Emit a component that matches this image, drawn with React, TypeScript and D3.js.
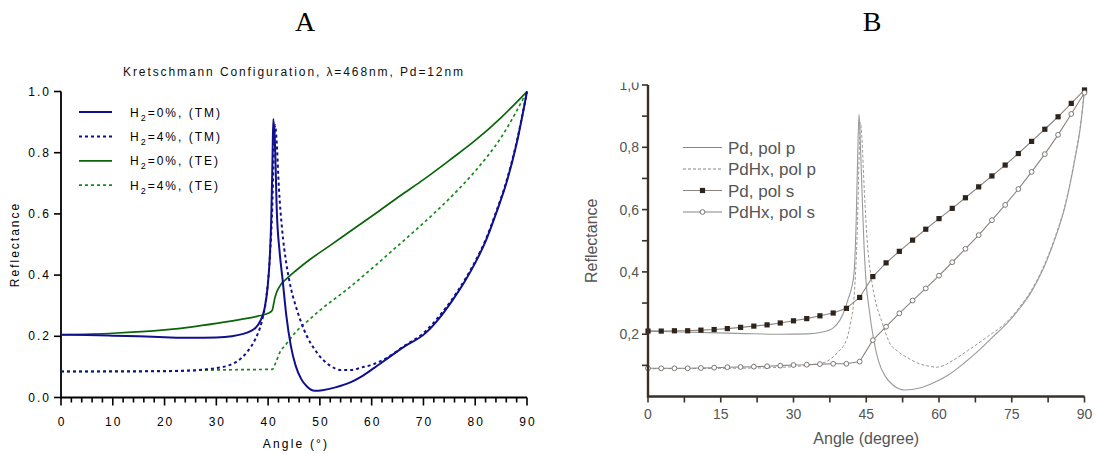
import React, { useEffect, useRef } from 'react';
import * as d3 from 'd3';

// ---- panel A : Kretschmann configuration, [angle, reflectance]
const tm0: [number, number][] = [
  [0, 0.205], [5, 0.204], [10, 0.202], [15, 0.2], [20, 0.197], [25, 0.195], [30, 0.196],
  [33, 0.2], [35, 0.207], [36.5, 0.216], [37.6, 0.228], [38.5, 0.25], [39.3, 0.29],
  [39.9, 0.36], [40.3, 0.45], [40.6, 0.58], [40.85, 0.78], [41.0, 0.91], [41.3, 0.84],
  [41.7, 0.6], [42.2, 0.48], [42.8, 0.385], [43.5, 0.27], [44.4, 0.168], [45.3, 0.105],
  [46.4, 0.06], [47.5, 0.036], [49, 0.022], [50.5, 0.024], [53, 0.033], [56, 0.05],
  [58, 0.068], [60.5, 0.097], [63, 0.127], [66, 0.163], [70.5, 0.212], [73, 0.258],
  [75.5, 0.315], [78, 0.38], [80, 0.44], [82, 0.51], [84, 0.6], [86, 0.7], [88, 0.83], [90, 1.0],
];
const tm4: [number, number][] = [
  [0, 0.085], [10, 0.085], [20, 0.086], [25, 0.088], [28, 0.092], [30, 0.096], [32.4, 0.105],
  [34, 0.118], [36, 0.15], [37.5, 0.19], [38.8, 0.25], [39.6, 0.32], [40.3, 0.45],
  [40.8, 0.62], [41.1, 0.8], [41.35, 0.89], [41.6, 0.85], [42.1, 0.68], [42.7, 0.55],
  [43.5, 0.44], [44.5, 0.35], [45.5, 0.29], [46.5, 0.24], [47.5, 0.2], [49, 0.157],
  [50.5, 0.125], [52, 0.104], [54, 0.09], [56, 0.09], [58, 0.098], [60.5, 0.11], [63, 0.13],
  [66, 0.165], [70.5, 0.218], [73, 0.265], [75.5, 0.32], [78, 0.385], [80, 0.445],
  [82, 0.515], [84, 0.605], [86, 0.705], [88, 0.835], [90, 1.0],
];
const te0: [number, number][] = [
  [0, 0.205], [10, 0.21], [20, 0.221], [25, 0.23], [30, 0.242], [35, 0.256], [38, 0.266],
  [40, 0.275], [40.8, 0.285], [41, 0.3], [41.3, 0.325], [41.8, 0.35], [42.5, 0.37],
  [43.5, 0.387], [45.4, 0.415], [48, 0.45], [52, 0.497], [56, 0.545], [61.3, 0.608],
  [66, 0.665], [70, 0.712], [75, 0.775], [80, 0.84], [85, 0.915], [90, 1.0],
];
const te4: [number, number][] = [
  [0, 0.085], [10, 0.086], [20, 0.087], [30, 0.09], [35, 0.091], [40.8, 0.092], [41.5, 0.115],
  [42.2, 0.145], [43.5, 0.175], [45.4, 0.215], [48, 0.255], [50, 0.285], [55, 0.35],
  [61.3, 0.44], [65, 0.495], [70, 0.57], [75, 0.65], [80, 0.74], [85, 0.85], [90, 1.0],
];
const legendA = ['=0%, (TM)', '=4%, (TM)', '=0%, (TE)', '=4%, (TE)'];
const xTicksA = [0, 10, 20, 30, 40, 50, 60, 70, 80, 90];
const yTicksA = [0, 0.2, 0.4, 0.6, 0.8, 1.0];

// ---- panel B : Pd / PdHx
const pdP: [number, number][] = [
  [0, 0.21], [10, 0.206], [20, 0.202], [27, 0.2], [33, 0.201], [36, 0.207], [38, 0.218],
  [39.6, 0.246], [40.6, 0.28], [41.3, 0.315], [42, 0.35], [42.5, 0.4], [42.9, 0.55],
  [43.25, 0.78], [43.5, 0.906], [43.7, 0.85], [44.1, 0.67], [44.5, 0.5], [44.9, 0.38],
  [45.6, 0.28], [46.5, 0.185], [47.5, 0.115], [49, 0.063], [50.5, 0.037], [52.9, 0.021],
  [56, 0.027], [59, 0.045], [62, 0.07], [65, 0.105], [68, 0.145], [71, 0.19], [74, 0.235],
  [76.5, 0.28], [79, 0.335], [81.5, 0.41], [84, 0.51], [86, 0.61], [88, 0.76], [89.2, 0.87], [90, 0.985],
];
const pdHxP: [number, number][] = [
  [0, 0.089], [10, 0.09], [20, 0.091], [28, 0.094], [32.7, 0.1], [35, 0.105], [36.8, 0.112],
  [39, 0.14], [41, 0.185], [41.8, 0.24], [42.4, 0.3], [42.8, 0.4], [43.2, 0.56], [43.5, 0.75],
  [43.8, 0.88], [44.1, 0.83], [44.6, 0.66], [45.3, 0.48], [46.1, 0.374], [47, 0.3], [48, 0.25],
  [49.9, 0.17], [51.5, 0.145], [54, 0.12], [56, 0.105], [58, 0.097], [59.5, 0.094], [61, 0.1],
  [63, 0.117], [66, 0.148], [70, 0.192], [74, 0.24], [76.5, 0.285], [79, 0.34], [81.5, 0.415],
  [84, 0.515], [86, 0.615], [88, 0.765], [89.2, 0.875], [90, 0.985],
];
const sAngles = [
  0, 2.73, 5.45, 8.18, 10.91, 13.64, 16.36, 19.09, 21.82, 24.55, 27.27, 30, 32.73, 35.45,
  38.18, 40.91, 43.64, 46.36, 49.09, 51.82, 54.55, 57.27, 60, 62.73, 65.45, 68.18, 70.91,
  73.64, 76.36, 79.09, 81.82, 84.55, 87.27, 90,
];
const pdS = [
  0.21, 0.21, 0.211, 0.211, 0.213, 0.215, 0.218, 0.222, 0.226, 0.23, 0.236, 0.243, 0.25, 0.259,
  0.268, 0.283, 0.318, 0.385, 0.429, 0.466, 0.502, 0.537, 0.571, 0.604, 0.638, 0.673, 0.708,
  0.743, 0.78, 0.819, 0.858, 0.898, 0.941, 0.984,
];
const pdHxS = [
  0.0905, 0.0905, 0.0905, 0.0905, 0.0915, 0.0925, 0.094, 0.0947, 0.0957, 0.097, 0.099, 0.101,
  0.102, 0.104, 0.105, 0.105, 0.112, 0.181, 0.224, 0.267, 0.308, 0.347, 0.388, 0.431, 0.474,
  0.518, 0.566, 0.615, 0.666, 0.721, 0.778, 0.84, 0.907, 0.975,
];
const legendB = ['Pd, pol p', 'PdHx, pol p', 'Pd, pol s', 'PdHx, pol s'];
const xTicksB = [0, 15, 30, 45, 60, 75, 90];
const yTicksB = [0.2, 0.4, 0.6, 0.8, 1.0];

const SANS = '"Liberation Sans", Arial, Helvetica, sans-serif';

export default function App() {
  const ref = useRef<SVGSVGElement>(null);

  useEffect(() => {
    const svg = d3.select(ref.current);
    svg.selectAll('*').remove();

    // panel letters
    svg.append('text').attr('x', 305).attr('y', 31).attr('text-anchor', 'middle')
      .style('font-family', '"Liberation Serif", "Times New Roman", serif').style('font-size', '28px').text('A');
    svg.append('text').attr('x', 872).attr('y', 31).attr('text-anchor', 'middle')
      .style('font-family', '"Liberation Serif", "Times New Roman", serif').style('font-size', '28px').text('B');

    // ================= panel A
    const xA = d3.scaleLinear().domain([0, 90]).range([61, 527]);
    const yA = d3.scaleLinear().domain([0, 1]).range([397.5, 91.5]);
    const gA = svg.append('g').style('font-family', SANS);

    gA.append('text').attr('x', 294).attr('y', 76).attr('text-anchor', 'middle')
      .style('font-size', '12px').style('letter-spacing', '1.9px').attr('fill', '#111')
      .text('Kretschmann Configuration, \u03bb=468nm, Pd=12nm');

    // axes
    gA.append('path').attr('d', `M${xA(0)},${yA(1)}V${yA(0)}H${xA(90)}`)
      .attr('fill', 'none').attr('stroke', '#000').attr('stroke-width', 1.8);
    d3.range(0, 91, 2).forEach((t) => {
      const major = t % 10 === 0;
      gA.append('line').attr('x1', xA(t)).attr('x2', xA(t)).attr('y1', yA(0)).attr('y2', yA(0) + (major ? 8 : 5))
        .attr('stroke', '#000').attr('stroke-width', 1.6);
    });
    xTicksA.forEach((t) => {
      gA.append('text').attr('x', xA(t) + 1).attr('y', yA(0) + 28).attr('text-anchor', 'middle')
        .style('font-size', '12px').style('letter-spacing', '2px').text(String(t));
    });
    yTicksA.forEach((t) => {
      gA.append('line').attr('x1', xA(0) - 7).attr('x2', xA(0)).attr('y1', yA(t)).attr('y2', yA(t))
        .attr('stroke', '#000').attr('stroke-width', 1.6);
      gA.append('text').attr('x', xA(0) - 10).attr('y', yA(t) + 4).attr('text-anchor', 'end')
        .style('font-size', '12px').style('letter-spacing', '2px').text(t.toFixed(1));
    });
    gA.append('text').attr('x', 296).attr('y', 448).attr('text-anchor', 'middle')
      .style('font-size', '12px').style('letter-spacing', '2.2px').text('Angle (\u00b0)');
    gA.append('text').attr('transform', `translate(19,${(yA(0) + yA(1)) / 2}) rotate(-90)`)
      .attr('text-anchor', 'middle').style('font-size', '12px').style('letter-spacing', '2px').text('Reflectance');

    const lineA = d3.line<[number, number]>().x((d) => xA(d[0])).y((d) => yA(d[1])).curve(d3.curveMonotoneX);
    const seriesA = [
      { data: te4, color: '#168a16', dash: '3,3', w: 1.7 },
      { data: te0, color: '#0a650a', dash: null, w: 1.7 },
      { data: tm4, color: '#10108c', dash: '3,3', w: 2 },
      { data: tm0, color: '#10108c', dash: null, w: 2 },
    ];
    seriesA.forEach((s) => {
      gA.append('path').attr('d', lineA(s.data)).attr('fill', 'none').attr('stroke', s.color)
        .attr('stroke-width', s.w).attr('stroke-dasharray', s.dash);
    });

    // legend A
    const legColorsA = [seriesA[3], seriesA[2], seriesA[1], seriesA[0]];
    legendA.forEach((lab, i) => {
      const y = 112 + i * 24.4;
      const s = legColorsA[i];
      gA.append('line').attr('x1', 79).attr('x2', 112).attr('y1', y).attr('y2', y)
        .attr('stroke', s.color).attr('stroke-width', s.w).attr('stroke-dasharray', s.dash);
      const t = gA.append('text').attr('x', 130).attr('y', y + 4.5).style('font-size', '12px')
        .style('letter-spacing', '2px');
      t.append('tspan').text('H');
      t.append('tspan').attr('dy', 4).style('font-size', '9px').text('2');
      t.append('tspan').attr('dy', -4).text(lab);
    });

    // ================= panel B
    const xB = d3.scaleLinear().domain([0, 90]).range([648, 1084.5]);
    const yB = d3.scaleLinear().domain([0, 1]).range([396.5, 85]);
    const gB = svg.append('g').style('font-family', SANS);
    const axisCol = '#3b3027';
    const txtCol = '#555';

    const lineB = d3.line<[number, number]>().x((d) => xB(d[0])).y((d) => yB(d[1])).curve(d3.curveMonotoneX);
    gB.append('path').attr('d', lineB(pdHxP)).attr('fill', 'none').attr('stroke', '#9a9a9a')
      .attr('stroke-width', 1).attr('stroke-dasharray', '3,2');
    gB.append('path').attr('d', lineB(pdP)).attr('fill', 'none').attr('stroke', '#9a9a9a').attr('stroke-width', 1.1);

    const sLine = d3.line<number>().x((_, i) => xB(sAngles[i])).y((d) => yB(d));
    gB.append('path').attr('d', sLine(pdS)).attr('fill', 'none').attr('stroke', '#8a8580').attr('stroke-width', 1.1);
    gB.append('path').attr('d', sLine(pdHxS)).attr('fill', 'none').attr('stroke', '#8a8580').attr('stroke-width', 1.1);
    pdS.forEach((v, i) => {
      gB.append('rect').attr('x', xB(sAngles[i]) - 2.6).attr('y', yB(v) - 2.6).attr('width', 5.2).attr('height', 5.2)
        .attr('fill', '#2e241b');
    });
    pdHxS.forEach((v, i) => {
      gB.append('circle').attr('cx', xB(sAngles[i])).attr('cy', yB(v)).attr('r', 2.4)
        .attr('fill', '#fff').attr('stroke', '#6e6a66').attr('stroke-width', 0.9);
    });

    // axes B
    gB.append('path').attr('d', `M${xB(0)},${yB(1)}V${yB(0)}H${xB(90)}`)
      .attr('fill', 'none').attr('stroke', axisCol).attr('stroke-width', 2.4);
    d3.range(0, 91, 7.5).forEach((t) => {
      gB.append('line').attr('x1', xB(t)).attr('x2', xB(t)).attr('y1', yB(0)).attr('y2', yB(0) + 6)
        .attr('stroke', axisCol).attr('stroke-width', 1.6);
    });
    xTicksB.forEach((t) => {
      gB.append('text').attr('x', xB(t)).attr('y', yB(0) + 22).attr('text-anchor', 'middle')
        .style('font-size', '14px').attr('fill', txtCol).text(String(t));
    });
    d3.range(0.1, 1.01, 0.1).forEach((t) => {
      gB.append('line').attr('x1', xB(0) - 6).attr('x2', xB(0)).attr('y1', yB(t)).attr('y2', yB(t))
        .attr('stroke', axisCol).attr('stroke-width', 1.6);
    });
    yTicksB.forEach((t) => {
      gB.append('text').attr('x', xB(0) - 9).attr('y', yB(t) + 5).attr('text-anchor', 'end')
        .style('font-size', '14px').attr('fill', txtCol).text(t.toFixed(1).replace('.', ','));
    });
    // top of the picture is cut just above 1,0
    gB.append('rect').attr('x', 590).attr('y', 60).attr('width', 60).attr('height', 22.5).attr('fill', '#fff');

    gB.append('text').attr('x', xB(45)).attr('y', 444).attr('text-anchor', 'middle')
      .style('font-size', '16px').attr('fill', txtCol).text('Angle (degree)');
    gB.append('text').attr('transform', `translate(597,${(yB(0) + yB(1)) / 2}) rotate(-90)`)
      .attr('text-anchor', 'middle').style('font-size', '16px').attr('fill', txtCol).text('Reflectance');

    // legend B
    legendB.forEach((lab, i) => {
      const y = 147.5 + i * 21.5;
      const x1 = 683, x2 = 722;
      gB.append('line').attr('x1', x1).attr('x2', x2).attr('y1', y).attr('y2', y)
        .attr('stroke', '#8a8580').attr('stroke-width', 1).attr('stroke-dasharray', i === 1 ? '3,2' : null);
      if (i === 2) {
        gB.append('rect').attr('x', (x1 + x2) / 2 - 2.6).attr('y', y - 2.6).attr('width', 5.2).attr('height', 5.2).attr('fill', '#2e241b');
      }
      if (i === 3) {
        gB.append('circle').attr('cx', (x1 + x2) / 2).attr('cy', y).attr('r', 2.4)
          .attr('fill', '#fff').attr('stroke', '#6e6a66').attr('stroke-width', 0.9);
      }
      gB.append('text').attr('x', 728).attr('y', y + 6).style('font-size', '17px').attr('fill', txtCol).text(lab);
    });
  }, []);

  return (
    <svg ref={ref} width={1097} height={454}
      style={{ position: 'absolute', left: 0, top: 0, background: '#fff' }} />
  );
}
